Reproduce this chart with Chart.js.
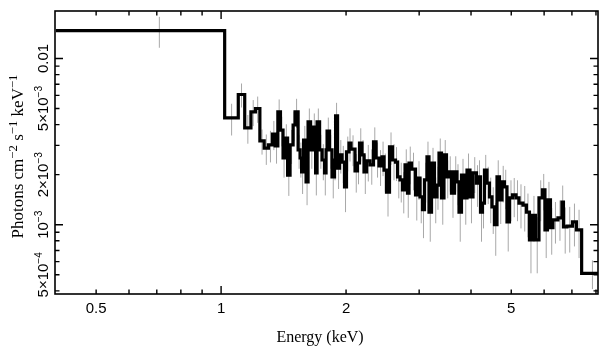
<!DOCTYPE html>
<html><head><meta charset="utf-8">
<script src="https://cdn.jsdelivr.net/npm/chart.js@4"></script>
<style>html,body{margin:0;padding:0;background:#fff}#wrap{width:609px;height:357px;position:relative}</style>
</head><body><div id="wrap"><canvas id="c" width="609" height="357"></canvas></div>
<script>
// Bin lower edges (keV); the last bin ends at binLastHi
const binLo = [0.40,1.02,1.10,1.14,1.18,1.21,1.24,1.27,1.30,1.33,1.35,1.37,1.39,
1.410,1.426,1.446,1.466,1.491,1.507,1.533,1.550,1.563,1.580,1.602,1.620,1.643,1.665,1.689,1.703,1.727,1.751,1.775,1.790,1.800,1.825,1.850,1.876,1.887,1.908,1.929,1.956,1.983,
2.005,2.033,2.056,2.102,2.131,2.155,2.185,2.210,2.241,2.284,2.329,2.362,2.401,2.442,2.469,2.503,2.545,2.588,2.631,2.661,2.698,2.735,2.774,2.812,2.836,2.875,2.940,2.981,
3.014,3.056,3.090,3.133,3.168,3.213,3.266,3.312,3.349,3.396,3.443,3.491,3.540,3.589,3.650,3.700,3.742,3.794,3.858,3.912,3.977,
4.044,4.123,4.169,4.216,4.263,4.310,4.370,4.431,4.493,4.556,4.620,4.684,4.749,4.815,4.883,4.951,
5.034,5.133,5.219,5.336,5.440,5.531,5.624,5.719,5.831,5.945,6.028,6.112,6.215,6.301,6.478,6.624,6.679,6.810,7.021,7.178,7.388];
const binLastHi = 8.3;
// Flux (photons cm^-2 s^-1 keV^-1)
const flux = [14.7e-3,4.39e-3,6.07e-3,3.82e-3,4.77e-3,5.00e-3,3.19e-3,2.89e-3,3.02e-3,3.51e-3,2.98e-3,4.77e-3,3.71e-3,
2.52e-3,3.32e-3,1.99e-3,3.02e-3,3.98e-3,4.77e-3,2.82e-3,2.52e-3,2.08e-3,3.23e-3,1.81e-3,4.15e-3,2.82e-3,3.87e-3,2.05e-3,4.15e-3,2.82e-3,2.45e-3,2.05e-3,2.82e-3,3.66e-3,2.82e-3,1.94e-3,2.45e-3,4.51e-3,2.19e-3,2.63e-3,2.38e-3,1.69e-3,
2.74e-3,3.10e-3,2.85e-3,2.11e-3,2.35e-3,3.10e-3,2.63e-3,2.08e-3,2.42e-3,2.29e-3,3.15e-3,2.52e-3,2.26e-3,2.56e-3,2.13e-3,1.57e-3,2.94e-3,2.45e-3,2.38e-3,1.94e-3,1.86e-3,1.62e-3,2.29e-3,1.55e-3,2.35e-3,2.16e-3,1.51e-3,1.91e-3,
1.47e-3,1.23e-3,1.86e-3,2.56e-3,1.19e-3,2.35e-3,1.47e-3,1.73e-3,2.70e-3,1.45e-3,2.63e-3,1.94e-3,2.08e-3,1.55e-3,2.08e-3,1.81e-3,1.19e-3,1.99e-3,1.45e-3,2.13e-3,1.47e-3,
2.05e-3,1.78e-3,1.94e-3,1.19e-3,1.35e-3,2.13e-3,1.78e-3,1.47e-3,1.28e-3,1.00e-3,1.94e-3,1.41e-3,1.81e-3,1.69e-3,1.04e-3,1.45e-3,
1.51e-3,1.45e-3,1.35e-3,1.31e-3,1.19e-3,0.81e-3,1.14e-3,0.81e-3,1.45e-3,1.62e-3,0.93e-3,1.41e-3,0.96e-3,1.07e-3,1.10e-3,1.37e-3,0.97e-3,0.98e-3,1.04e-3,0.93e-3,0.51e-3];
// 1-sigma errors on flux
const fluxErr = [3.1e-3,0.95e-3,1.0e-3,0.75e-3,0.85e-3,0.9e-3,0.55e-3,0.6e-3,0.65e-3,0.7e-3,0.65e-3,0.9e-3,0.75e-3,
0.6e-3,0.7e-3,0.5e-3,0.7e-3,0.8e-3,0.95e-3,0.65e-3,0.6e-3,0.55e-3,0.7e-3,0.5e-3,0.85e-3,0.65e-3,0.8e-3,0.55e-3,0.85e-3,0.65e-3,0.6e-3,0.55e-3,0.65e-3,0.75e-3,0.65e-3,0.5e-3,0.6e-3,0.9e-3,0.55e-3,0.6e-3,0.6e-3,0.5e-3,
0.65e-3,0.7e-3,0.6e-3,0.55e-3,0.6e-3,0.7e-3,0.6e-3,0.55e-3,0.6e-3,0.55e-3,0.7e-3,0.6e-3,0.55e-3,0.6e-3,0.55e-3,0.45e-3,0.65e-3,0.6e-3,0.55e-3,0.5e-3,0.5e-3,0.45e-3,0.55e-3,0.45e-3,0.6e-3,0.55e-3,0.45e-3,0.5e-3,
0.45e-3,0.4e-3,0.5e-3,0.6e-3,0.4e-3,0.55e-3,0.45e-3,0.5e-3,0.6e-3,0.45e-3,0.6e-3,0.5e-3,0.5e-3,0.45e-3,0.5e-3,0.5e-3,0.4e-3,0.5e-3,0.45e-3,0.55e-3,0.45e-3,
0.5e-3,0.5e-3,0.5e-3,0.4e-3,0.4e-3,0.5e-3,0.45e-3,0.45e-3,0.4e-3,0.35e-3,0.5e-3,0.4e-3,0.45e-3,0.45e-3,0.35e-3,0.4e-3,
0.4e-3,0.4e-3,0.4e-3,0.4e-3,0.35e-3,0.3e-3,0.35e-3,0.3e-3,0.4e-3,0.4e-3,0.3e-3,0.4e-3,0.3e-3,0.3e-3,0.3e-3,0.35e-3,0.3e-3,0.3e-3,0.3e-3,0.3e-3,0.1e-3];

const xRange = [0.398, 8.09];
const yRange = [3.83e-4, 0.0193];
const xMajorTicks = [0.5, 1, 2, 5];
const xTickLabels = ['0.5', '1', '2', '5'];
const xMinorTicks = [0.6, 0.7, 0.8, 0.9, 3, 4, 6, 7, 8];
const yMajorTicks = [5e-4, 1e-3, 2e-3, 5e-3, 0.01];
const yTickLabels = ['5\u00d710^{\u22124}', '10^{\u22123}', '2\u00d710^{\u22123}', '5\u00d710^{\u22123}', '0.01'];
const yMinorTicks = [4e-4, 6e-4, 7e-4, 8e-4, 9e-4, 3e-3, 4e-3, 6e-3, 7e-3, 8e-3, 9e-3];
const xTitle = 'Energy (keV)';
const yTitle = 'Photons cm^{\u22122} s^{\u22121} keV^{\u22121}';

// step-line points: each bin's value from its lower edge to the next edge
const stepPts = binLo.map((e, i) => ({x: e, y: flux[i]}));
stepPts.push({x: binLastHi, y: flux[flux.length - 1]});
// error bars at bin centres
const errPts = [];
binLo.forEach((e, i) => {
  const hi = i + 1 < binLo.length ? binLo[i + 1] : Math.min(binLastHi, xRange[1] + 0.6);
  const c = (e + hi) / 2;
  errPts.push({x: c, y: flux[i] - fluxErr[i]}, {x: c, y: flux[i] + fluxErr[i]}, {x: c, y: null});
});

function segs(str) {
  const out = []; const re = /\^\{([^}]*)\}/g; let last = 0, m;
  while ((m = re.exec(str))) {
    if (m.index > last) out.push({t: str.slice(last, m.index), sup: false});
    out.push({t: m[1], sup: true}); last = re.lastIndex;
  }
  if (last < str.length) out.push({t: str.slice(last), sup: false});
  return out;
}
function drawRich(ctx, str, x, y, size, family, supScale) {
  const s = segs(str); const sup = size * (supScale || 0.68);
  let w = 0;
  s.forEach(p => { ctx.font = (p.sup ? sup : size) + 'px ' + family; p.w = ctx.measureText(p.t).width; w += p.w; });
  let cx = x - w / 2;
  ctx.textAlign = 'left'; ctx.textBaseline = 'alphabetic';
  s.forEach(p => {
    ctx.font = (p.sup ? sup : size) + 'px ' + family;
    ctx.fillText(p.t, cx, p.sup ? y - size * 0.38 : y);
    cx += p.w;
  });
}
const isDecade = v => Math.abs(Math.log10(v) - Math.round(Math.log10(v))) < 1e-9;

const axesPlugin = {
  id: 'axesPlugin',
  afterDraw(chart) {
    const {ctx, chartArea: a, scales: {x, y}} = chart;
    ctx.save();
    ctx.strokeStyle = '#000'; ctx.fillStyle = '#000';
    ctx.lineWidth = 1.6;
    ctx.strokeRect(a.left, a.top, a.right - a.left, a.bottom - a.top);
    ctx.lineWidth = 1.4;
    const tl = v => isDecade(v) ? 8 : 4.5;
    xMajorTicks.concat(xMinorTicks).forEach(v => {
      const p = x.getPixelForValue(v); if (p <= a.left + 1 || p >= a.right - 1) return;
      ctx.beginPath();
      ctx.moveTo(p, a.bottom); ctx.lineTo(p, a.bottom - tl(v));
      ctx.moveTo(p, a.top); ctx.lineTo(p, a.top + tl(v));
      ctx.stroke();
    });
    yMajorTicks.concat(yMinorTicks).forEach(v => {
      const p = y.getPixelForValue(v); if (p <= a.top + 1 || p >= a.bottom - 1) return;
      ctx.beginPath();
      ctx.moveTo(a.left, p); ctx.lineTo(a.left + tl(v), p);
      ctx.moveTo(a.right, p); ctx.lineTo(a.right - tl(v), p);
      ctx.stroke();
    });
    const sans = '"Liberation Sans", Arial, sans-serif';
    const serif = '"Liberation Serif", "Times New Roman", serif';
    xMajorTicks.forEach((v, i) => {
      drawRich(ctx, xTickLabels[i], x.getPixelForValue(v), a.bottom + 19, 15, sans);
    });
    yMajorTicks.forEach((v, i) => {
      ctx.save();
      ctx.translate(a.left - 7.5, y.getPixelForValue(v));
      ctx.rotate(-Math.PI / 2);
      drawRich(ctx, yTickLabels[i], 0, 0, 15, sans);
      ctx.restore();
    });
    drawRich(ctx, xTitle, 320, 342, 16, serif);
    ctx.save();
    ctx.translate(23, (a.top + a.bottom) / 2 + 4);
    ctx.rotate(-Math.PI / 2);
    drawRich(ctx, yTitle, 0, 0, 17, serif, 0.75);
    ctx.restore();
    ctx.restore();
  }
};

new Chart(document.getElementById('c'), {
  type: 'line',
  data: {
    datasets: [
      {data: stepPts, stepped: true, borderColor: '#000', borderWidth: 3.2, pointRadius: 0, fill: false, order: 0, clip: 0},
      {data: errPts, borderColor: '#a8a8a8', borderWidth: 1, pointRadius: 0, spanGaps: false, fill: false, order: 1, clip: 0}
    ]
  },
  options: {
    responsive: false, animation: false, devicePixelRatio: 1,
    layout: {padding: {left: 55, top: 11, right: 11, bottom: 63}},
    plugins: {legend: {display: false}, tooltip: {enabled: false}},
    scales: {
      x: {type: 'logarithmic', min: xRange[0], max: xRange[1], display: false},
      y: {type: 'logarithmic', min: yRange[0], max: yRange[1], display: false}
    }
  },
  plugins: [axesPlugin]
});
</script></body></html>
